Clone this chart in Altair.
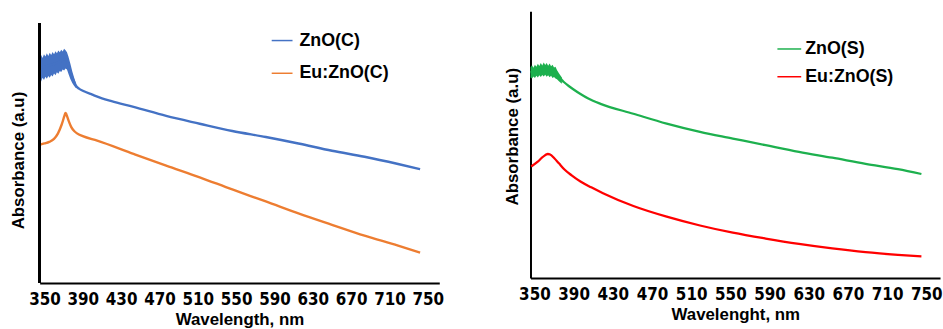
import altair as alt
import pandas as pd

# ---------------- data ----------------
ticks_nm = [350, 390, 430, 470, 510, 550, 590, 630, 670, 710, 750]

# ZnO(C): centre line
blue_nm = [345, 350, 359, 366, 371, 373.5, 375, 377, 379, 381, 383, 386, 390, 400, 410, 420, 443,
           477, 512, 546, 581, 615, 650, 684, 719, 742]
blue_abs = [0.827, 0.832, 0.842, 0.852, 0.862, 0.855, 0.838, 0.815, 0.792, 0.774, 0.759, 0.748, 0.74,
            0.725, 0.711, 0.70, 0.678, 0.643, 0.613, 0.585, 0.562, 0.537, 0.509, 0.486, 0.458, 0.438]
# ZnO(C): noisy band near the band edge (low / high envelope)
blue_band_nm = [345, 346.5, 348, 349.5, 351, 352.5, 354, 355.5, 357, 358.5, 360, 361.5, 363, 364.5,
                366, 367.5, 369, 370.5, 372, 373.5, 375, 377, 379, 381, 383]
blue_band_hi = [0.870, 0.878, 0.866, 0.880, 0.872, 0.884, 0.874, 0.886, 0.878, 0.889, 0.880, 0.892,
                0.884, 0.895, 0.888, 0.898, 0.891, 0.902, 0.896, 0.888, 0.872, 0.845, 0.815, 0.79, 0.768]
blue_band_lo = [0.782, 0.776, 0.790, 0.781, 0.794, 0.786, 0.797, 0.790, 0.801, 0.795, 0.806, 0.800,
                0.811, 0.805, 0.816, 0.812, 0.822, 0.818, 0.826, 0.822, 0.805, 0.785, 0.770, 0.758, 0.750]

orange_nm = [345, 350, 355, 360, 364, 368, 371, 372, 373, 375, 378, 381, 384, 390, 405, 443,
             477, 512, 546, 581, 615, 650, 684, 719, 742]
orange_abs = [0.532, 0.537, 0.543, 0.555, 0.575, 0.61, 0.645, 0.655, 0.648, 0.627, 0.60, 0.585,
              0.576, 0.565, 0.548, 0.497, 0.452, 0.407, 0.36, 0.314, 0.268, 0.224, 0.182, 0.144, 0.117]

# ZnO(S): centre line
green_nm = [346, 350, 355, 360, 365, 368, 371, 373, 376, 378, 380, 385, 390, 397, 405, 417.5,
            451, 485, 519, 552.5, 586, 620, 654, 688, 721, 745]
green_abs = [0.771, 0.774, 0.778, 0.783, 0.779, 0.776, 0.770, 0.762, 0.752, 0.742, 0.735, 0.72,
             0.707, 0.69, 0.673, 0.653, 0.616, 0.579, 0.548, 0.523, 0.498, 0.473, 0.451, 0.428, 0.408, 0.390]
green_band_nm = [346, 347.5, 349, 350.5, 352, 353.5, 355, 356.5, 358, 359.5, 361, 362.5, 364, 365.5,
                 367, 368.5, 370, 371.5, 373, 375, 378]
green_band_hi = [0.790, 0.798, 0.788, 0.800, 0.792, 0.803, 0.795, 0.806, 0.797, 0.808, 0.799, 0.806,
                 0.796, 0.804, 0.794, 0.800, 0.789, 0.792, 0.780, 0.768, 0.752]
green_band_lo = [0.752, 0.748, 0.756, 0.750, 0.758, 0.752, 0.760, 0.754, 0.761, 0.756, 0.762, 0.755,
                 0.760, 0.753, 0.758, 0.750, 0.754, 0.748, 0.745, 0.738, 0.728]

red_nm = [346.7, 353.4, 358, 363.6, 366, 370.3, 375, 380.4, 388, 397, 408, 420, 451, 485,
          519, 552.5, 586, 620, 654, 688, 721, 745]
red_abs = [0.418, 0.436, 0.452, 0.465, 0.463, 0.449, 0.43, 0.408, 0.385, 0.362, 0.34, 0.318, 0.27, 0.23,
           0.197, 0.170, 0.148, 0.128, 0.111, 0.097, 0.087, 0.081]

left_series = ["ZnO(C)", "Eu:ZnO(C)"]
left_colors = ["#4472C4", "#ED7D31"]
right_series = ["ZnO(S)", "Eu:ZnO(S)"]
right_colors = ["#1DB04E", "#FF0000"]

# ---------------- tables ----------------
def table(nm, ab, name, order):
    return pd.DataFrame({"nm": nm, "abs": ab, "series": name, "ord": order})

df_left = pd.concat([table(blue_nm, blue_abs, left_series[0], 0),
                     table(orange_nm, orange_abs, left_series[1], 1)])
df_right = pd.concat([table(green_nm, green_abs, right_series[0], 0),
                      table(red_nm, red_abs, right_series[1], 1)])
df_blue_band = pd.DataFrame({"nm": blue_band_nm, "lo": blue_band_lo, "hi": blue_band_hi})
df_green_band = pd.DataFrame({"nm": green_band_nm, "lo": green_band_lo, "hi": green_band_hi})

FONT = "Liberation Sans"
TICKFONT = "Liberation Sans Narrow, DejaVu Sans Condensed, Liberation Sans"


def x_axis(title):
    return alt.Axis(values=ticks_nm, title=title, grid=False, ticks=False,
                    domainColor="black", domainWidth=2,
                    labelFont=TICKFONT, labelFontSize=17, labelFontWeight="bold",
                    labelColor="black", labelPadding=9, labelFlush=False,
                    titleFont=FONT, titleFontSize=17, titleFontWeight="bold",
                    titleColor="black", titlePadding=4)


def y_axis(pad, ty, domain):
    kw = dict(labels=False, ticks=False, grid=False, title="Absorbance (a.u)",
              titleFont=FONT, titleFontSize=17, titleFontWeight="bold", titleColor="black",
              titlePadding=pad, titleY=ty, domain=domain)
    if domain:
        kw.update(domainColor="black", domainWidth=2)
    return alt.Axis(**kw)


def legend(lx, ly, size, offset, rowpad):
    return alt.Legend(orient="none", legendX=lx, legendY=ly, title=None,
                      symbolType="stroke", symbolSize=size, symbolStrokeWidth=1.5,
                      labelFont=FONT, labelFontSize=18, labelFontWeight="bold",
                      labelColor="black", labelOffset=offset, rowPadding=rowpad, padding=0)


# ---------------- left panel ----------------
LW, LH = 403, 274
lx = alt.Scale(domain=[345, 762], nice=False, zero=False)
ly = alt.Scale(domain=[0, 274 / 262], nice=False, zero=False)

left_band = alt.Chart(df_blue_band).mark_area(interpolate="linear", color=left_colors[0]).encode(
    x=alt.X("nm:Q", scale=lx, axis=x_axis("Wavelength, nm")),
    y=alt.Y("lo:Q", scale=ly, axis=y_axis(12, 150, False)),
    y2="hi:Q",
)
left_lines = alt.Chart(df_left).mark_line(interpolate="monotone", strokeWidth=2.4).encode(
    x=alt.X("nm:Q", scale=lx),
    y=alt.Y("abs:Q", scale=ly),
    color=alt.Color("series:N", scale=alt.Scale(domain=left_series, range=left_colors),
                    legend=legend(233, 18, 441, 6, 12)),
    order="ord:Q",
)
left_yline = alt.Chart(df_blue_band).mark_rule(color="black", strokeWidth=2).encode(
    x=alt.value(0), y=alt.value(12), y2=alt.value(LH))
left = alt.layer(left_band, left_lines, left_yline).properties(width=LW, height=LH)

# ---------------- right panel ----------------
RW, RH = 413, 269
rx = alt.Scale(domain=[346, 764], nice=False, zero=False)
ry = alt.Scale(domain=[0, 1], nice=False, zero=False)

right_band = alt.Chart(df_green_band).mark_area(interpolate="linear", color=right_colors[0]).encode(
    x=alt.X("nm:Q", scale=rx, axis=x_axis("Wavelenght, nm")),
    y=alt.Y("lo:Q", scale=ry, axis=y_axis(9, 126, True)),
    y2="hi:Q",
)
right_lines = alt.Chart(df_right).mark_line(interpolate="monotone", strokeWidth=2.3).encode(
    x=alt.X("nm:Q", scale=rx),
    y=alt.Y("abs:Q", scale=ry),
    color=alt.Color("series:N", scale=alt.Scale(domain=right_series, range=right_colors),
                    legend=legend(248, 25, 576, 3, 6)),
    order="ord:Q",
)
right = alt.layer(right_band, right_lines).properties(width=RW, height=RH)

chart = alt.hconcat(left, right, spacing=60).resolve_scale(color="independent").properties(
    padding={"left": 10, "top": 10, "right": 0, "bottom": 0}, background="white"
).configure_view(stroke=None)

chart.save("out.html", embed_options={"renderer": "svg", "actions": False})
